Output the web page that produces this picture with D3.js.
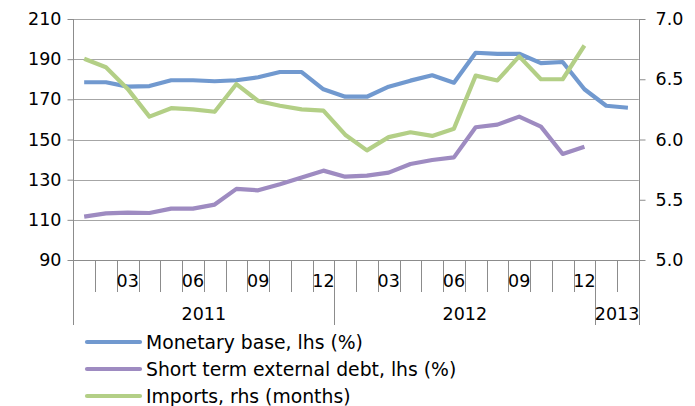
<!DOCTYPE html>
<html>
<head>
<meta charset="utf-8">
<script src="https://cdn.jsdelivr.net/npm/d3@7"></script>
<style>
  body { margin: 0; background: #fff; }
  svg { display: block; font-family: "DejaVu Sans", Verdana, sans-serif; }
</style>
</head>
<body>
<svg id="chart" width="695" height="406"></svg>
<script>
// months Jan 2011 .. Feb 2013
const months = ["01","02","03","04","05","06","07","08","09","10","11","12",
                "01","02","03","04","05","06","07","08","09","10","11","12",
                "01","02"]
const years = ["2011", "2012", "2013"]
const yearSpans = [12, 12, 2]

const monetaryBase = [178.5, 178.5, 176.3, 176.6, 179.5, 179.5, 179.0, 179.5, 181.0, 183.6, 183.6, 175.0,
                      171.3, 171.3, 176.3, 179.3, 182.0, 178.3, 193.2, 192.6, 192.7, 188.0, 188.6, 175.0,
                      166.8, 165.8]
const shortTermDebt = [111.6, 113.2, 113.6, 113.4, 115.6, 115.6, 117.6, 125.4, 124.7, 127.7, 131.1, 134.5,
                       131.5, 132.0, 133.5, 137.8, 139.8, 141.1, 156.1, 157.4, 161.4, 156.4, 142.8, 146.4]
const imports = [6.67, 6.60, 6.42, 6.19, 6.26, 6.25, 6.23, 6.46, 6.32, 6.28, 6.25, 6.24,
                 6.04, 5.91, 6.02, 6.06, 6.03, 6.09, 6.53, 6.49, 6.69, 6.50, 6.50, 6.78]

const leftTicks = [90, 110, 130, 150, 170, 190, 210]
const rightTicks = [5.0, 5.5, 6.0, 6.5, 7.0]

const series = [
  { name: "Monetary base, lhs (%)", values: monetaryBase, axis: "left", color: "#7199cf" },
  { name: "Short term external debt, lhs (%)", values: shortTermDebt, axis: "left", color: "#9e8bc1" },
  { name: "Imports, rhs (months)", values: imports, axis: "right", color: "#b3cf86" }
]

const svg = d3.select("#chart")
const plotLeft = 73.3, plotRight = 638.8, plotTop = 19, plotBottom = 260
const gridColor = "#a6a6a6", axisColor = "#8c8c8c"

const x = d3.scaleBand().domain(d3.range(months.length)).range([plotLeft, plotRight]).paddingInner(0).paddingOuter(0)
const yL = d3.scaleLinear().domain([90, 210]).range([plotBottom, plotTop])
const yR = d3.scaleLinear().domain([5.0, 7.0]).range([plotBottom, plotTop])

// gridlines
svg.append("g").selectAll("line")
  .data(leftTicks.slice(1))
  .join("line")
  .attr("x1", plotLeft).attr("x2", plotRight)
  .attr("y1", d => Math.round(yL(d)) + 0.5).attr("y2", d => Math.round(yL(d)) + 0.5)
  .attr("stroke", gridColor).attr("stroke-width", 1)

// left axis
const gl = svg.append("g").attr("transform", `translate(${Math.round(plotLeft) + 0.5},0)`)
  .call(d3.axisLeft(yL).tickValues(leftTicks).tickSize(6).tickPadding(6).tickFormat(d3.format("d")))
gl.select(".domain").remove()
gl.selectAll(".tick line").attr("stroke", axisColor)
gl.selectAll(".tick text").attr("fill", "#000").style("font-size", "17.5px").style("font-family", "DejaVu Sans")
gl.append("line").attr("y1", plotTop).attr("y2", 325).attr("stroke", axisColor)

// right axis
const gr = svg.append("g").attr("transform", `translate(${Math.round(plotRight) + 0.5},0)`)
  .call(d3.axisRight(yR).tickValues(rightTicks).tickSize(6).tickPadding(10).tickFormat(d3.format(".1f")))
gr.select(".domain").remove()
gr.selectAll(".tick line").attr("stroke", axisColor)
gr.selectAll(".tick text").attr("fill", "#000").style("font-size", "17.5px").style("font-family", "DejaVu Sans")
gr.append("line").attr("y1", plotTop).attr("y2", 325).attr("stroke", axisColor)

// category axis
const gx = svg.append("g")
gx.append("line").attr("x1", plotLeft).attr("x2", plotRight)
  .attr("y1", plotBottom + 0.5).attr("y2", plotBottom + 0.5).attr("stroke", axisColor)
gx.selectAll("line.mt")
  .data(d3.range(1, months.length))
  .join("line").attr("class", "mt")
  .attr("x1", d => Math.round(x(d)) + 0.5).attr("x2", d => Math.round(x(d)) + 0.5)
  .attr("y1", plotBottom).attr("y2", d => (d === 12 || d === 24) ? 325 : 292)
  .attr("stroke", axisColor)
gx.selectAll("text.m")
  .data(months.map((m, i) => ({ m, i })).filter(d => +d.m % 3 === 0))
  .join("text").attr("class", "m")
  .attr("x", d => x(d.i) + x.bandwidth() / 2)
  .attr("y", 287)
  .attr("text-anchor", "middle")
  .style("font-size", "17.5px")
  .text(d => d.m)

let start = 0
years.forEach((yr, k) => {
  const x0 = x(start), x1 = x(start + yearSpans[k] - 1) + x.bandwidth()
  gx.append("text")
    .attr("x", (x0 + x1) / 2).attr("y", 320)
    .attr("text-anchor", "middle")
    .style("font-size", "17.5px")
    .text(yr)
  start += yearSpans[k]
})

// lines
series.forEach(s => {
  const y = s.axis === "left" ? yL : yR
  const line = d3.line()
    .x((d, i) => x(i) + x.bandwidth() / 2)
    .y(d => y(d))
  svg.append("path")
    .datum(s.values)
    .attr("fill", "none")
    .attr("stroke", s.color)
    .attr("stroke-width", 4.2)
    .attr("stroke-linejoin", "round")
    .attr("d", line)
})

// legend
const lg = svg.append("g")
series.forEach((s, i) => {
  const cy = 342 + i * 27
  lg.append("line")
    .attr("x1", 87).attr("x2", 140).attr("y1", cy).attr("y2", cy)
    .attr("stroke", s.color).attr("stroke-width", 4.2).attr("stroke-linecap", "round")
  lg.append("text")
    .attr("x", 146).attr("y", cy + 6.8)
    .style("font-size", "18.8px")
    .text(s.name)
})
</script>
</body>
</html>
